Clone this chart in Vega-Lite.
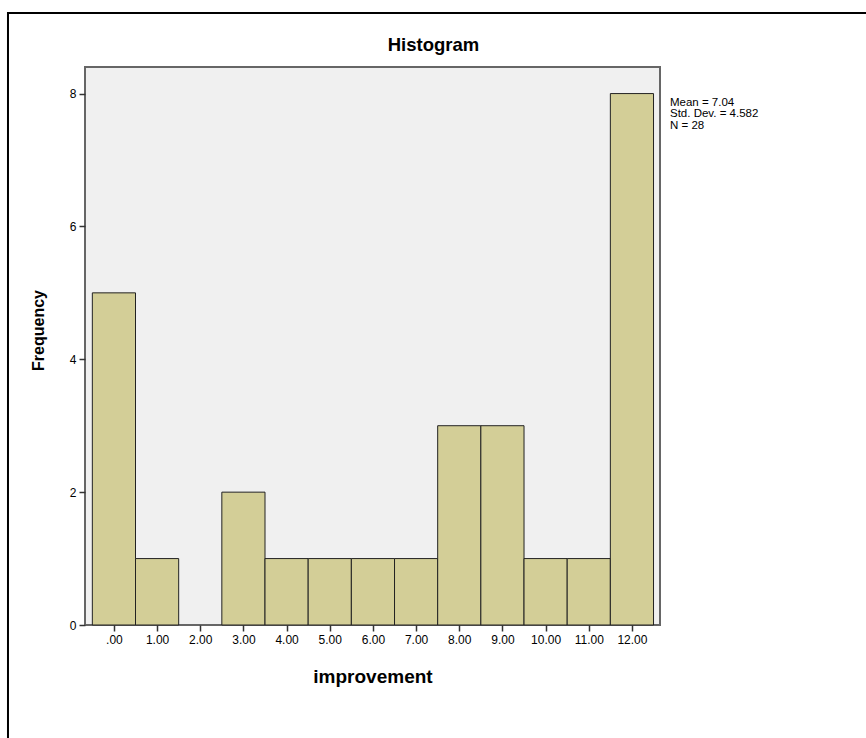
{
  "$schema": "https://vega.github.io/schema/vega-lite/v6.json",
  "width": 575,
  "height": 558,
  "autosize": "none",
  "padding": {"left": 85, "top": 67, "right": 206, "bottom": 113},
  "background": "white",
  "title": {
    "text": "Histogram",
    "font": "Liberation Sans",
    "fontSize": 18.5,
    "fontWeight": "bold",
    "color": "black",
    "anchor": "middle",
    "frame": "group",
    "baseline": "alphabetic",
    "dx": 61,
    "offset": -58
  },
  "data": {
    "values": [
      {"bin_start": -0.5, "bin_end": 0.5, "count": 5},
      {"bin_start": 0.5, "bin_end": 1.5, "count": 1},
      {"bin_start": 1.5, "bin_end": 2.5, "count": 0},
      {"bin_start": 2.5, "bin_end": 3.5, "count": 2},
      {"bin_start": 3.5, "bin_end": 4.5, "count": 1},
      {"bin_start": 4.5, "bin_end": 5.5, "count": 1},
      {"bin_start": 5.5, "bin_end": 6.5, "count": 1},
      {"bin_start": 6.5, "bin_end": 7.5, "count": 1},
      {"bin_start": 7.5, "bin_end": 8.5, "count": 3},
      {"bin_start": 8.5, "bin_end": 9.5, "count": 3},
      {"bin_start": 9.5, "bin_end": 10.5, "count": 1},
      {"bin_start": 10.5, "bin_end": 11.5, "count": 1},
      {"bin_start": 11.5, "bin_end": 12.5, "count": 8}
    ]
  },
  "layer": [
    {
      "mark": {"type": "bar", "fill": "#d3ce97", "stroke": "#222222", "strokeWidth": 1, "opacity": 1},
      "transform": [{"filter": "datum.count > 0"}],
      "encoding": {
        "x": {
          "field": "bin_start",
          "type": "quantitative",
          "scale": {"domain": [-0.67, 12.65], "nice": false, "zero": false},
          "axis": {
            "title": "improvement",
            "values": [0, 1, 2, 3, 4, 5, 6, 7, 8, 9, 10, 11, 12],
            "labelExpr": "datum.value == 0 ? '.00' : format(datum.value, '.2f')",
            "grid": false,
            "domain": false,
            "tickColor": "#333333",
            "tickSize": 6,
            "tickWidth": 1.5,
            "labelFont": "Liberation Sans",
            "labelFontSize": 12,
            "labelColor": "black",
            "labelPadding": 3,
            "titleFont": "Liberation Sans",
            "titleFontSize": 19,
            "titleFontWeight": "bold",
            "titleColor": "black",
            "titlePadding": 22
          }
        },
        "x2": {"field": "bin_end"},
        "y": {
          "field": "count",
          "type": "quantitative",
          "scale": {"domain": [0, 8.4], "nice": false, "zero": true},
          "axis": {
            "title": "Frequency",
            "values": [0, 2, 4, 6, 8],
            "format": "d",
            "grid": false,
            "domain": false,
            "tickColor": "#333333",
            "tickSize": 6,
            "tickWidth": 1.5,
            "labelFont": "Liberation Sans",
            "labelFontSize": 12,
            "labelColor": "black",
            "labelPadding": 3,
            "titleFont": "Liberation Sans",
            "titleFontSize": 16,
            "titleFontWeight": "bold",
            "titleColor": "black",
            "titlePadding": 23,
            "titleY": 263
          }
        },
        "y2": {"datum": 0}
      }
    },
    {
      "data": {"values": [{"label": "frame"}]},
      "mark": {"type": "rect", "fill": null, "stroke": "black", "strokeWidth": 2, "clip": false},
      "encoding": {
        "x": {"datum": -2.454, "type": "quantitative"},
        "x2": {"datum": 25},
        "y": {"datum": 9.213, "type": "quantitative"},
        "y2": {"datum": -5}
      }
    },
    {
      "data": {"values": [{"stats": "Mean = 7.04\nStd. Dev. = 4.582\nN = 28"}]},
      "mark": {
        "type": "text",
        "align": "left",
        "baseline": "top",
        "dx": 10,
        "font": "Liberation Sans",
        "fontSize": 11.5,
        "lineHeight": 11.5,
        "lineBreak": "\n",
        "color": "black"
      },
      "encoding": {
        "x": {"datum": 12.65, "type": "quantitative"},
        "y": {"datum": 7.95, "type": "quantitative"},
        "text": {"field": "stats"}
      }
    }
  ],
  "config": {
    "view": {"fill": "#f0f0f0", "stroke": "#666666", "strokeWidth": 2}
  }
}
